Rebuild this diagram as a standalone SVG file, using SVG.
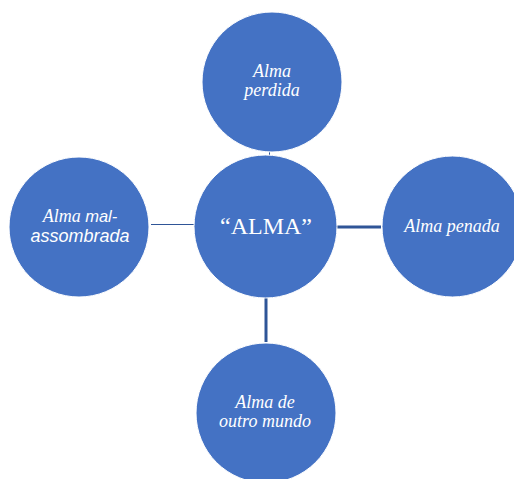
<svg xmlns="http://www.w3.org/2000/svg" width="514" height="479" viewBox="0 0 514 479">
<style>
.node{fill:#4472C4;stroke:#ffffff;stroke-width:1}
.lbl{fill:#ffffff;font-family:"Liberation Serif","Times New Roman",serif;font-style:italic;font-size:18px;text-anchor:middle}
.sans{font-family:"Liberation Sans",Arial,sans-serif}
.main{fill:#ffffff;font-family:"Liberation Serif","Times New Roman",serif;font-size:24px;text-anchor:middle}
.conn{stroke:#2F5597;fill:none}
</style>
<rect width="514" height="479" fill="#ffffff"/>
<g id="connectors">
<line class="conn" x1="151" y1="224.5" x2="195" y2="224.5" stroke-width="1"/>
<line class="conn" x1="337" y1="227" x2="381" y2="227" stroke-width="3"/>
<line class="conn" x1="266" y1="298" x2="266" y2="342" stroke-width="3"/>
<line class="conn" x1="269.5" y1="152" x2="269.5" y2="156" stroke-width="1"/>
</g>
<g id="node-alma-perdida">
<circle class="node" cx="272" cy="82" r="70"/>
<text class="lbl" x="272" y="77">Alma</text>
<text class="lbl" x="272" y="96">perdida</text>
</g>
<g id="node-alma">
<circle class="node" cx="265.5" cy="226.5" r="71.5"/>
<text class="main" x="266" y="234">“ALMA”</text>
</g>
<g id="node-alma-mal-assombrada">
<circle class="node" cx="79" cy="227" r="70"/>
<text class="lbl" x="80" y="222">Alma <tspan class="sans" font-size="16.5">mal-</tspan></text>
<text class="lbl sans" x="80" y="242" font-size="16.5">assombrada</text>
</g>
<g id="node-alma-penada">
<circle class="node" cx="452.5" cy="226.5" r="70.5"/>
<text class="lbl" x="452" y="232">Alma penada</text>
</g>
<g id="node-alma-de-outro-mundo">
<circle class="node" cx="266" cy="413" r="70"/>
<text class="lbl" x="265" y="408">Alma de</text>
<text class="lbl" x="265" y="427">outro mundo</text>
</g>
</svg>
